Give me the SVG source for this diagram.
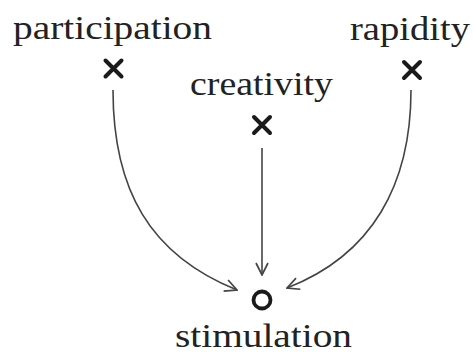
<svg xmlns="http://www.w3.org/2000/svg" width="473" height="354" viewBox="0 0 473 354">
<defs>
<style>
text{font-family:"Liberation Serif","Times New Roman",serif;font-size:33px;fill:#222;text-anchor:middle}
.x{stroke:#1a1a1a;stroke-width:4;stroke-linecap:round;fill:none}
.c{stroke:#444;stroke-width:1.6;fill:none}
.o{stroke:#1a1a1a;stroke-width:3.8;fill:none}
</style>
<marker id="ah" viewBox="0 0 14 14" refX="13" refY="7" markerWidth="14" markerHeight="14" markerUnits="userSpaceOnUse" orient="auto">
<path d="M1,1 L13,7 L1,13" fill="none" stroke="#444" stroke-width="1.7"/>
</marker>
</defs>
<rect width="473" height="354" fill="#fff"/>
<g id="participation">
<text x="112.5" y="39" textLength="199" lengthAdjust="spacingAndGlyphs">participation</text>
<path class="x" d="M105.5,60.5 L121.5,76.5 M121.5,60.5 L105.5,76.5"/>
</g>
<g id="creativity">
<text x="261.5" y="95" textLength="143" lengthAdjust="spacingAndGlyphs">creativity</text>
<path class="x" d="M254,117 L270,133 M270,117 L254,133"/>
</g>
<g id="rapidity">
<text x="410" y="40" textLength="120" lengthAdjust="spacingAndGlyphs">rapidity</text>
<path class="x" d="M404,62 L420,78 M420,62 L404,78"/>
</g>
<g id="stimulation">
<circle class="o" cx="262" cy="300" r="8.5"/>
<text x="263.5" y="347" textLength="177" lengthAdjust="spacingAndGlyphs">stimulation</text>
</g>
<g id="connectors">
<path class="c" d="M113,90 C113,190 150,255 237,290" marker-end="url(#ah)"/>
<path class="c" d="M262,148 L262,275" marker-end="url(#ah)"/>
<path class="c" d="M411,90 C411,185 372,255 287,288" marker-end="url(#ah)"/>
</g>
</svg>
